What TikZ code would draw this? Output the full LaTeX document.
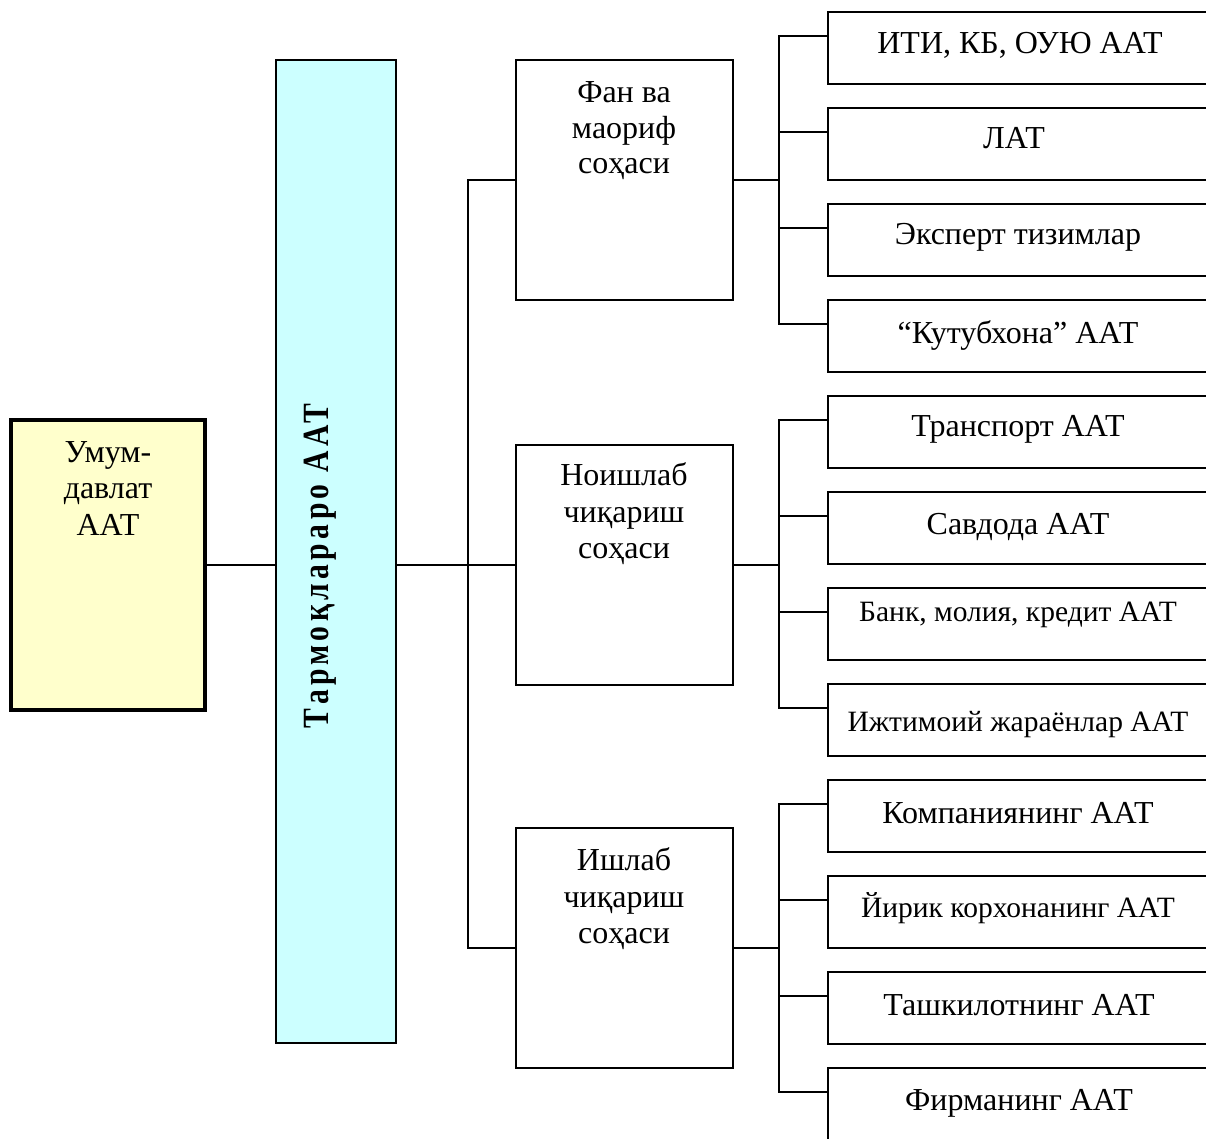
\documentclass[tikz,border=0pt]{standalone}
\usepackage{fontspec}
\setmainfont{Liberation Serif}
\newfontfamily\vfont[LetterSpace=15]{Liberation Serif}
\usetikzlibrary{calc}
\definecolor{umfill}{RGB}{255,255,204}
\definecolor{tafill}{RGB}{204,255,255}
\begin{document}
\begin{tikzpicture}[x=1pt,y=-1pt,
  box/.style={draw, line width=1.8pt, inner sep=0pt, outer sep=0pt},
  rbox/.style={box, minimum width=380pt, minimum height=72pt},
  mbox/.style={box, minimum width=217pt, minimum height=240pt},
  lnk/.style={line width=1.8pt},
  txt/.style={anchor=base, inner sep=0pt, font=\fontsize{32}{38}\selectfont},
  stxt/.style={anchor=base, inner sep=0pt, font=\fontsize{29.5}{35}\selectfont}]
\useasboundingbox (0,0) rectangle (1206,1138);
\clip (0,0) rectangle (1206,1138);
\fill[white] (0,0) rectangle (1206,1138);

% left box
\node[box, line width=3.5pt, fill=umfill, minimum width=194pt, minimum height=290pt] (um) at (108,565) {};
\node[txt] (um1) at (108,462) {Умум-};
\node[txt] (um2) at (108,498) {давлат};
\node[txt] (um3) at (108,535) {ААТ};

% tall box
\node[box, line width=2.5pt, fill=tafill, minimum width=120pt, minimum height=983pt] (ta) at (336,551.5) {};
\node[rotate=90, anchor=base, inner sep=0pt, font=\vfont\bfseries\fontsize{37}{40}\selectfont] (tat) at (328,566) {\scalebox{0.8}[1]{Тармоқлараро ААТ}};

% middle boxes
\node[mbox] (m1) at (624.5,180) {};
\node[mbox] (m2) at (624.5,565) {};
\node[mbox] (m3) at (624.5,948) {};
\node[txt] (m1a) at (624,102) {Фан ва};
\node[txt] (m1b) at (624,138) {маориф};
\node[txt] (m1c) at (624,173) {соҳаси};
\node[txt] (m2a) at (624,485) {Ноишлаб};
\node[txt] (m2b) at (624,522) {чиқариш};
\node[txt] (m2c) at (624,558) {соҳаси};
\node[txt] (m3a) at (624,870) {Ишлаб};
\node[txt] (m3b) at (624,907) {чиқариш};
\node[txt] (m3c) at (624,943) {соҳаси};

% right boxes
\foreach \i/\y in {1/48,2/144,3/240,4/336,5/432,6/528,7/624,8/720,9/816,10/912,11/1008,12/1104}{
  \node[rbox] (r\i) at (1018,\y) {};
  \coordinate (c\i) at ($(r\i.west)+(0,-12)$);
}
\node[txt] (t1) at (1020,53) {ИТИ, КБ, ОУЮ ААТ};
\node[txt] (t2) at (1014,148) {ЛАТ};
\node[txt] (t3) at (1018,244) {Эксперт тизимлар};
\node[txt] (t4) at (1018,343) {“Кутубхона” ААТ};
\node[txt] (t5) at (1018,436) {Транспорт ААТ};
\node[txt] (t6) at (1018,534) {Савдода ААТ};
\node[stxt] (t7) at (1018,621) {Банк, молия, кредит ААТ};
\node[stxt] (t8) at (1018,731) {Ижтимоий жараёнлар ААТ};
\node[txt] (t9) at (1018,823) {Компаниянинг ААТ};
\node[stxt] (t10) at (1018,917) {Йирик корхонанинг ААТ};
\node[txt] (t11) at (1019,1015) {Ташкилотнинг ААТ};
\node[txt] (t12) at (1019,1110) {Фирманинг ААТ};

% connectors
\coordinate (b1) at (468,0);
\coordinate (b2) at (779,0);
\draw[lnk] (um.east) -- (um.east -| ta.west);
\draw[lnk] (m2.west -| ta.east) -- (m2.west);
\draw[lnk] (m1.west) -- (m1.west -| b1) -- (m3.west -| b1) -- (m3.west);
\draw[lnk] (m1.east) -- (m1.east -| b2);
\draw[lnk] (m2.east) -- (m2.east -| b2);
\draw[lnk] (m3.east) -- (m3.east -| b2);
\draw[lnk] (c1) -- (c1 -| b2) -- (c4 -| b2) -- (c4);
\draw[lnk] (c2 -| b2) -- (c2);
\draw[lnk] (c3 -| b2) -- (c3);
\draw[lnk] (c5) -- (c5 -| b2) -- (c8 -| b2) -- (c8);
\draw[lnk] (c6 -| b2) -- (c6);
\draw[lnk] (c7 -| b2) -- (c7);
\draw[lnk] (c9) -- (c9 -| b2) -- (c12 -| b2) -- (c12);
\draw[lnk] (c10 -| b2) -- (c10);
\draw[lnk] (c11 -| b2) -- (c11);
\end{tikzpicture}
\end{document}
